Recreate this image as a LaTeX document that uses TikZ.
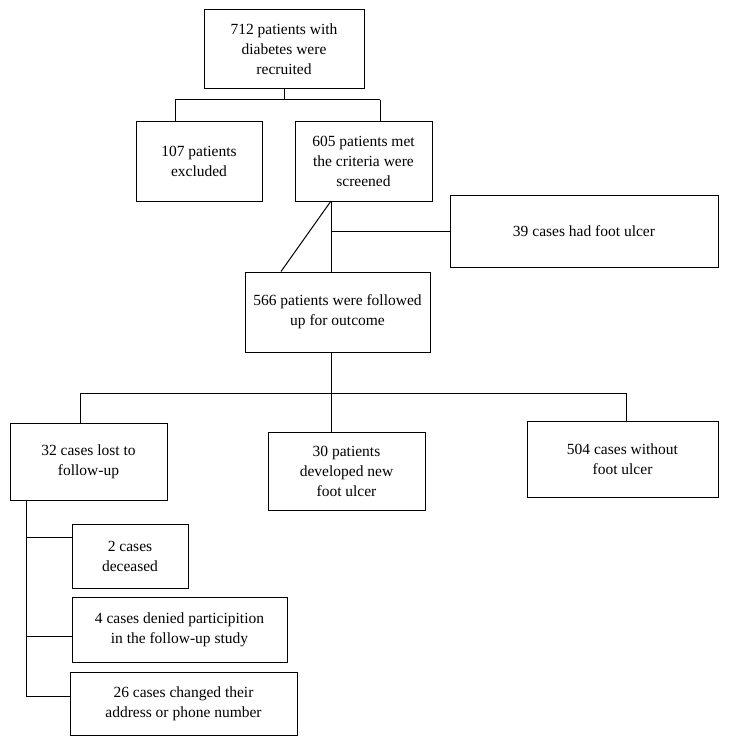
\documentclass[tikz,border=0pt]{standalone}
\usepackage{fontspec}
\setmainfont{Liberation Serif}
\begin{document}
\begin{tikzpicture}[x=1pt,y=-1pt,line width=1pt,
  bx/.style={draw,align=center,font=\fontsize{15.5}{20}\selectfont,inner sep=0pt}]
\useasboundingbox (0,0) rectangle (729,746);
\newcommand{\bxn}[6]{\node[bx,minimum width=#3-#2,minimum height=#5-#4] (#1) at ({(#2+#3)/2},{(#4+#5)/2}) {#6};}
\bxn{a}{204}{364}{10}{89}{712 patients with\\diabetes were\\recruited}
\bxn{b}{136}{262}{122}{201}{107 patients\\excluded}
\bxn{c}{295}{432}{122}{201}{605 patients met\\the criteria were\\screened}
\bxn{d}{450}{718}{195}{267}{39 cases had foot ulcer}
\bxn{e}{245}{430}{272}{352}{566 patients were followed\\up for outcome}
\bxn{f}{10}{167}{423}{500}{32 cases lost to\\follow-up}
\bxn{g}{268}{425}{432}{510}{30 patients\\developed new\\foot ulcer}
\bxn{h}{527}{718}{421}{497}{504 cases without\\foot ulcer}
\bxn{i}{72}{188}{524}{588}{2 cases\\deceased}
\bxn{j}{72}{287}{597}{662}{4 cases denied participition\\in the follow-up study}
\bxn{k}{70}{297}{672}{735}{26 cases changed their\\address or phone number}
\coordinate (c0) at (331,201);
\coordinate (cj) at (331,231);
\draw (a.south) -- ++(0,11) coordinate (ja);
\draw (175,100) -- (380,100);
\draw (175,100) -- (b.north -| 175,0);
\draw (380,100) -- (c.north -| 380,0);
\draw (c0) -- (e.north -| c0);
\draw (c0) -- (e.north -| 281,0);
\draw (cj) -- (cj -| d.west);
\draw (e.south -| 331,0) -- (g.north -| 331,0);
\draw (80,393) -- (626,393);
\draw (80,393) -- (f.north -| 80,0);
\draw (626,393) -- (h.north -| 626,0);
\draw (f.south -| 26,0) -- (26,696);
\draw (26,537) -- (i.west |- 26,537);
\draw (26,636) -- (j.west |- 26,636);
\draw (26,696) -- (k.west |- 26,696);
\end{tikzpicture}
\end{document}
